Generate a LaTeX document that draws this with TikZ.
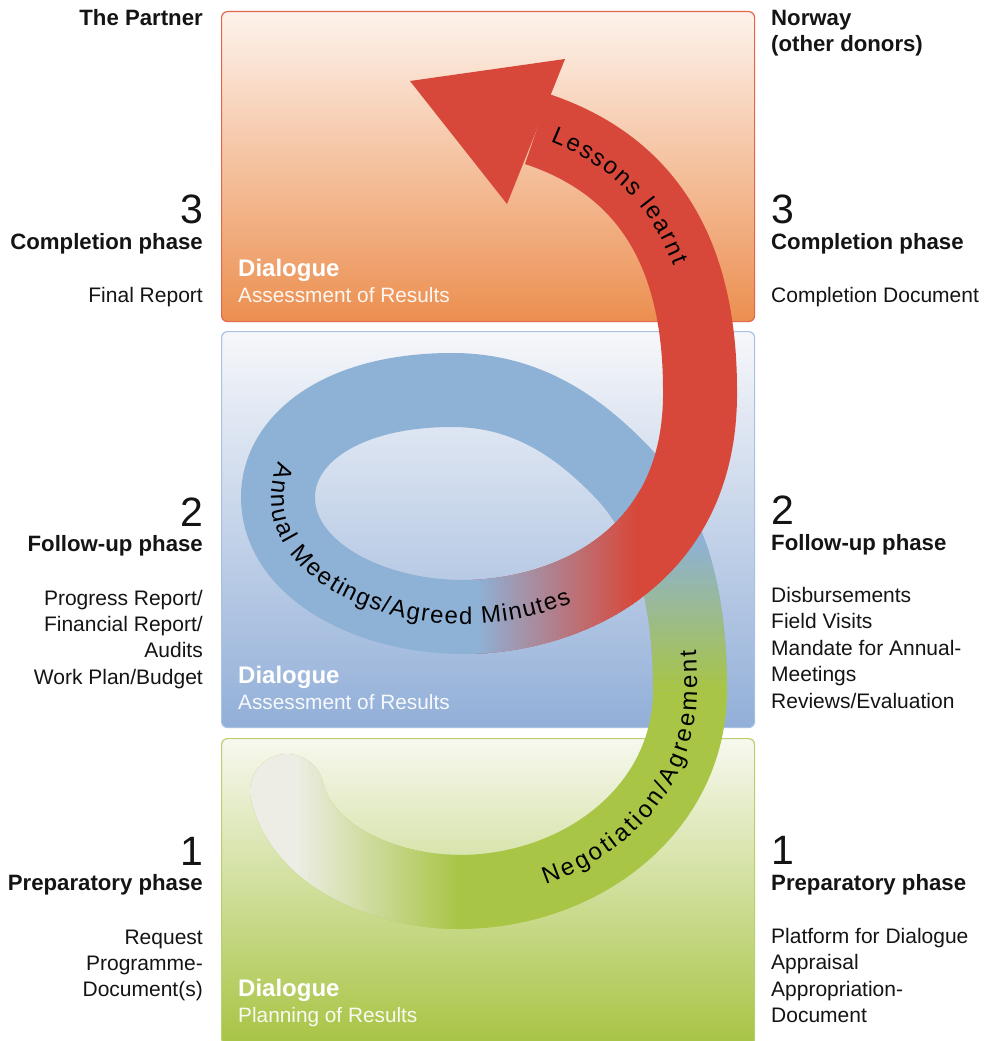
\documentclass[tikz,border=0pt]{standalone}
\usepackage{fontspec}
\setmainfont{Liberation Sans}
\usetikzlibrary{decorations.text}

\definecolor{txt}{HTML}{141414}
\definecolor{orangetop}{HTML}{FDF3EC}
\definecolor{orangebot}{HTML}{EC8F50}
\definecolor{orangeedge}{HTML}{E2664A}
\definecolor{bluetop}{HTML}{F6F7FA}
\definecolor{bluebot}{HTML}{92AFD8}
\definecolor{blueedge}{HTML}{A9C1E2}
\definecolor{greentop}{HTML}{F7F8EF}
\definecolor{greenmid}{HTML}{D8E2AC}
\definecolor{greenbot}{HTML}{A7C443}
\definecolor{greenedge}{HTML}{BAD06F}
\definecolor{bandgreen}{HTML}{A8C545}
\definecolor{bandstart}{HTML}{EDEDE5}
\definecolor{bandblue}{HTML}{8EB1D6}
\definecolor{bandred}{HTML}{D8483A}

\newcommand\bandfont{\fontsize{24}{28}\selectfont}

\begin{document}
\begin{tikzpicture}[x=1pt,y=-1pt,
  phasebox/.style={draw, line width=1.2pt, rounded corners=6pt, inner sep=0pt,
                   minimum width=533pt, anchor=north west},
  band/.style={line width=74pt, line cap=butt},
  leftcol/.style={anchor=base east, inner sep=0pt, text=txt},
  rightcol/.style={anchor=base west, inner sep=0pt, text=txt},
  body/.style={font=\fontsize{21}{24}\selectfont},
  head/.style={font=\bfseries\fontsize{22.2}{24}\selectfont},
  num/.style={font=\fontsize{41}{44}\selectfont},
  dlg/.style={anchor=base west, inner sep=0pt, text=white, font=\bfseries\fontsize{24}{28}\selectfont},
  dlgsub/.style={anchor=base west, inner sep=0pt, text=white, text opacity=0.92, font=\fontsize{20.8}{24}\selectfont},
  bandtext/.style={decorate, decoration={text along path, text align={fit to path}, raise=-7pt}}
]
\useasboundingbox (0,0) rectangle (989,1041);

% ---------- phase boxes ----------
\node[phasebox, draw=orangeedge, top color=orangetop, bottom color=orangebot, minimum height=310pt] (boxC) at (221,11) {};
\node[phasebox, draw=blueedge, top color=bluetop, bottom color=bluebot, minimum height=396pt] (boxB) at (221,331) {};
\node[phasebox, draw=greenedge, top color=greentop, middle color=greenmid, bottom color=greenbot, minimum height=306pt] (boxA) at (221,738) {};

% ---------- band geometry ----------
\coordinate (g0) at (287,791);
\coordinate (g1) at (459,892);
\coordinate (g2) at (690,690);
\coordinate (b1) at (622,472);
\coordinate (b2) at (452,390);
\coordinate (b3) at (278,497);
\coordinate (b4) at (463,617);
\coordinate (b4a) at (452,617);
\coordinate (b5) at (488,617);
\coordinate (r1) at (700,390);
\coordinate (r2) at (537,129);
\coordinate (tip) at (410,81);
\coordinate (barbA) at (565,59);
\coordinate (barbB) at (507,204);

\def\greenpath{(g0) .. controls (303,859) and (390,892) .. (g1) .. controls (580,892) and (690,810) .. (g2)}
\def\bluepath{(g2) .. controls (690,600) and (672,525) .. (b1) .. controls (572,420) and (520,390) .. (b2) .. controls (340,390) and (278,440) .. (b3) .. controls (278,570) and (370,617) .. (b4)}
\def\redpath{(b4) .. controls (565,617) and (702,560) .. (r1) .. controls (700,250) and (645,165) .. (r2)}

% green part (fading in from the left)
\draw[band, line cap=round, bandgreen] \greenpath;
\begin{scope}
  \clip (240,740) rectangle (297,960);
  \draw[band, line cap=round, bandstart] \greenpath;
\end{scope}
\foreach \i in {0,...,40}{
  \pgfmathsetmacro{\xa}{296+4*\i}
  \pgfmathtruncatemacro{\pc}{round(100*(\i+0.5)/41)}
  \begin{scope}
    \clip (\xa,740) rectangle ({\xa+4.6},960);
    \draw[band, line cap=round, bandgreen!\pc!bandstart] \greenpath;
  \end{scope}
}

% blue loop (green to blue on the right side)
\draw[band, bandblue] \bluepath;
\draw[band, bandblue] (b4a) -- (b5);
\foreach \i in {0,...,29}{
  \pgfmathsetmacro{\ya}{540+5*\i}
  \pgfmathtruncatemacro{\pc}{round(100*(\i+0.5)/30)}
  \begin{scope}
    \clip (600,\ya) rectangle (780,{\ya+5.6});
    \draw[band, bandgreen!\pc!bandblue] \bluepath;
  \end{scope}
}

% red part (blue to red at the bottom of the loop)
\begin{scope}
  \clip (472,0) rectangle (989,1041);
  \draw[band, bandred] \redpath;
\end{scope}
\foreach \i in {0,...,44}{
  \pgfmathsetmacro{\xa}{460+4*\i}
  \pgfmathtruncatemacro{\pc}{max(0,min(100,round(100*(\xa+2-478)/159)))}
  \begin{scope}
    \clip (\xa,440) rectangle ({\xa+4.6},700);
    \draw[band, bandred!\pc!bandblue] \redpath;
  \end{scope}
}
\fill[bandred] (barbA) -- (tip) -- (barbB) -- cycle;

% ---------- texts along the band ----------
\path[bandtext, decoration={text={|\bandfont|Lessons learnt}}]
  (553,135) .. controls (614,159) and (657,202) .. (680,263);
\path[bandtext, decoration={text={|\bandfont|Annual Meetings/Agreed Minutes}}]
  (285,464) .. controls (280,476) and (278,486) .. (278,497)
  .. controls (278,570) and (370,617) .. (463,617)
  .. controls (497,617) and (534,611) .. (569,596);
\path[bandtext, decoration={text={|\bandfont|Negotiation/Agreement}}]
  (543,878) .. controls (626,850) and (690,781) .. (690,690)
  .. controls (690,677) and (690,663) .. (689,650);

% ---------- box captions ----------
\node[dlg] (dlgC) at (238,276) {Dialogue};
\node[dlgsub] (subC) at (238,302) {Assessment of Results};
\node[dlg] (dlgB) at (238,683) {Dialogue};
\node[dlgsub] (subB) at (238,709) {Assessment of Results};
\node[dlg] (dlgA) at (238,996) {Dialogue};
\node[dlgsub] (subA) at (238,1022) {Planning of Results};

% ---------- left column: the partner ----------
\node[leftcol, head] (partner) at (203,26) {The Partner};
\node[leftcol, num] (numLthree) at (203,223) {3};
\node[leftcol, head] (compL) at (203,249) {Completion phase};
\node[leftcol, body] (finalL) at (203,302) {Final Report};
\node[leftcol, num] (numLtwo) at (203,526) {2};
\node[leftcol, head] (follL) at (203,551) {Follow-up phase};
\node[leftcol, body] (progL) at (203,605) {Progress Report/};
\node[leftcol, body] (finL) at (203,631) {Financial Report/};
\node[leftcol, body] (audL) at (203,657) {Audits};
\node[leftcol, body] (workL) at (203,684) {Work Plan/Budget};
\node[leftcol, num] (numLone) at (203,865) {1};
\node[leftcol, head] (prepL) at (203,890) {Preparatory phase};
\node[leftcol, body] (reqL) at (203,944) {Request};
\node[leftcol, body] (progdL) at (203,970) {Programme-};
\node[leftcol, body] (docL) at (203,996) {Document(s)};

% ---------- right column: Norway ----------
\node[rightcol, head] (norway) at (771,26) {Norway};
\node[rightcol, head] (donors) at (771,52) {(other donors)};
\node[rightcol, num] (numRthree) at (771,223) {3};
\node[rightcol, head] (compR) at (771,249) {Completion phase};
\node[rightcol, body] (compdR) at (771,302) {Completion Document};
\node[rightcol, num] (numRtwo) at (771,524) {2};
\node[rightcol, head] (follR) at (771,550) {Follow-up phase};
\node[rightcol, body] (disbR) at (771,602) {Disbursements};
\node[rightcol, body] (fieldR) at (771,628) {Field Visits};
\node[rightcol, body] (mandR) at (771,655) {Mandate for Annual-};
\node[rightcol, body] (meetR) at (771,681) {Meetings};
\node[rightcol, body] (revR) at (771,708) {Reviews/Evaluation};
\node[rightcol, num] (numRone) at (771,864) {1};
\node[rightcol, head] (prepR) at (771,890) {Preparatory phase};
\node[rightcol, body] (platR) at (771,943) {Platform for Dialogue};
\node[rightcol, body] (apprR) at (771,969) {Appraisal};
\node[rightcol, body] (approR) at (771,996) {Appropriation-};
\node[rightcol, body] (docR) at (771,1022) {Document};
\end{tikzpicture}
\end{document}
